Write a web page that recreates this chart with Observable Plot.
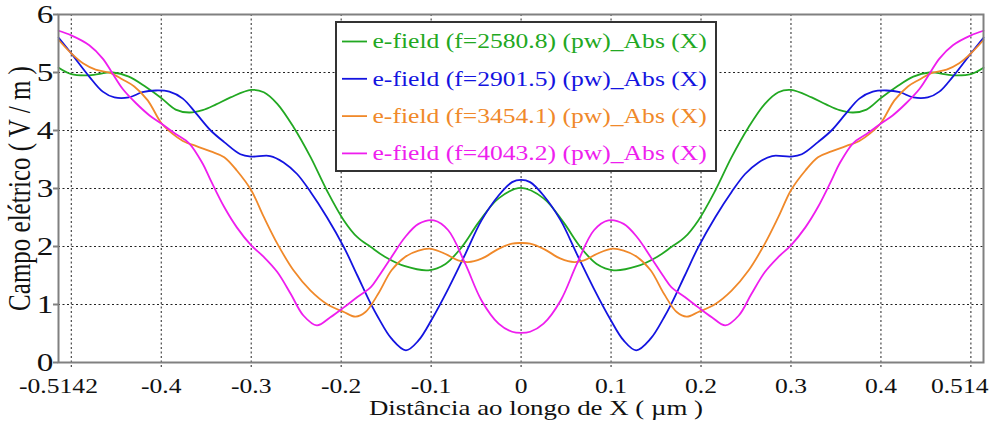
<!DOCTYPE html>
<html>
<head>
<meta charset="utf-8">
<script src="https://cdn.jsdelivr.net/npm/d3@7"></script>
<script src="https://cdn.jsdelivr.net/npm/@observablehq/plot@0.6"></script>
<style>
  html, body { margin: 0; padding: 0; background: #fff; }
</style>
</head>
<body>
<div id="chart"></div>
<script>
// Electric field magnitude along X for four frequencies (plane wave excitation)

const names = [
  "e-field (f=2580.8) (pw)_Abs (X)",
  "e-field (f=2901.5) (pw)_Abs (X)",
  "e-field (f=3454.1) (pw)_Abs (X)",
  "e-field (f=4043.2) (pw)_Abs (X)"
];
const colors = ["#22a822", "#1414e0", "#f0892a", "#ee1eee"];

// f = 2580.8
const x2580 = [-0.514,-0.5,-0.48,-0.454,-0.436,-0.417,-0.4,-0.384,-0.369,-0.354,-0.339,-0.323,-0.3,-0.286,-0.271,-0.253,-0.234,-0.216,-0.197,-0.182,-0.167,-0.151,-0.129,-0.103,-0.084,-0.066,-0.047,-0.025,0,
  0.025,0.047,0.066,0.084,0.103,0.129,0.151,0.167,0.182,0.197,0.216,0.234,0.253,0.271,0.286,0.3,0.323,0.339,0.354,0.369,0.384,0.4,0.417,0.436,0.454,0.48,0.5,0.514];
const e2580 = [5.08,4.97,4.95,5.00,4.93,4.75,4.56,4.36,4.31,4.35,4.45,4.57,4.70,4.66,4.46,4.06,3.54,2.97,2.45,2.16,1.99,1.82,1.66,1.59,1.70,1.99,2.42,2.83,3.01,
  2.83,2.42,1.99,1.70,1.59,1.66,1.82,1.99,2.16,2.45,2.97,3.54,4.06,4.46,4.66,4.70,4.57,4.45,4.35,4.31,4.36,4.56,4.75,4.93,5.00,4.95,4.97,5.08];

// f = 2901.5
const x2901 = [-0.514,-0.5,-0.48,-0.465,-0.452,-0.436,-0.421,-0.406,-0.391,-0.376,-0.361,-0.345,-0.33,-0.312,-0.3,-0.279,-0.264,-0.249,-0.234,-0.216,-0.197,-0.182,-0.167,-0.159,-0.144,-0.128,-0.114,-0.099,-0.081,-0.062,-0.044,-0.025,-0.01,0,
  0.01,0.025,0.044,0.062,0.081,0.099,0.114,0.128,0.144,0.159,0.167,0.182,0.197,0.216,0.234,0.249,0.264,0.279,0.3,0.312,0.33,0.345,0.361,0.376,0.391,0.406,0.421,0.436,0.452,0.465,0.48,0.5,0.514];
const e2901 = [5.60,5.33,4.93,4.67,4.57,4.57,4.66,4.69,4.67,4.55,4.29,4.00,3.80,3.59,3.55,3.56,3.45,3.25,2.94,2.51,1.99,1.50,1.01,0.78,0.41,0.21,0.38,0.75,1.27,1.87,2.45,2.88,3.11,3.15,
  3.11,2.88,2.45,1.87,1.27,0.75,0.38,0.21,0.41,0.78,1.01,1.50,1.99,2.51,2.94,3.25,3.45,3.56,3.55,3.59,3.80,4.00,4.29,4.55,4.67,4.69,4.66,4.57,4.57,4.67,4.93,5.33,5.60];

// f = 3454.1
const x3454 = [-0.514,-0.5,-0.487,-0.473,-0.456,-0.443,-0.43,-0.415,-0.4,-0.388,-0.376,-0.361,-0.345,-0.33,-0.316,-0.3,-0.286,-0.271,-0.253,-0.234,-0.216,-0.197,-0.184,-0.173,-0.159,-0.144,-0.129,-0.114,-0.1,-0.084,-0.07,-0.059,-0.044,-0.025,-0.01,0,
  0.01,0.025,0.044,0.059,0.07,0.084,0.1,0.114,0.129,0.144,0.159,0.173,0.184,0.197,0.216,0.234,0.253,0.271,0.286,0.3,0.316,0.33,0.345,0.361,0.376,0.388,0.4,0.415,0.43,0.443,0.456,0.473,0.487,0.5,0.514];
const e3454 = [5.56,5.33,5.16,5.05,4.99,4.88,4.76,4.52,4.13,3.95,3.82,3.73,3.64,3.54,3.31,2.97,2.51,2.05,1.59,1.24,1.01,0.87,0.79,0.87,1.18,1.59,1.82,1.93,1.96,1.87,1.76,1.73,1.79,1.96,2.05,2.06,
  2.05,1.96,1.79,1.73,1.76,1.87,1.96,1.93,1.82,1.59,1.18,0.87,0.79,0.87,1.01,1.24,1.59,2.05,2.51,2.97,3.31,3.54,3.64,3.73,3.82,3.95,4.13,4.52,4.76,4.88,4.99,5.05,5.16,5.33,5.56];

// f = 4043.2
const x4043 = [-0.514,-0.5,-0.48,-0.465,-0.454,-0.443,-0.428,-0.413,-0.4,-0.384,-0.369,-0.354,-0.345,-0.33,-0.316,-0.3,-0.286,-0.271,-0.256,-0.242,-0.227,-0.212,-0.197,-0.182,-0.167,-0.159,-0.144,-0.129,-0.114,-0.097,-0.081,-0.062,-0.044,-0.025,-0.01,0,
  0.01,0.025,0.044,0.062,0.081,0.097,0.114,0.129,0.144,0.159,0.167,0.182,0.197,0.212,0.227,0.242,0.256,0.271,0.286,0.3,0.316,0.33,0.345,0.354,0.369,0.384,0.4,0.413,0.428,0.443,0.454,0.465,0.48,0.5,0.514];
const e4043 = [5.72,5.64,5.47,5.24,4.98,4.72,4.47,4.26,4.12,3.94,3.78,3.43,3.14,2.68,2.33,2.02,1.82,1.56,1.18,0.81,0.64,0.78,0.95,1.13,1.30,1.47,1.82,2.16,2.39,2.45,2.28,1.70,1.07,0.67,0.53,0.51,
  0.53,0.67,1.07,1.70,2.28,2.45,2.39,2.16,1.82,1.47,1.30,1.13,0.95,0.78,0.64,0.81,1.18,1.56,1.82,2.02,2.33,2.68,3.14,3.43,3.78,3.94,4.12,4.26,4.47,4.72,4.98,5.24,5.47,5.64,5.72];

// axes
const xDomain = [-0.5142, 0.514];
const yDomain = [0, 6];
const xTickValues = [-0.5142, -0.4, -0.3, -0.2, -0.1, 0, 0.1, 0.2, 0.3, 0.4, 0.514];
const xTickLabels = ["-0.5142", "-0.4", "-0.3", "-0.2", "-0.1", "0", "0.1", "0.2", "0.3", "0.4", "0.514"];
const xGridValues = [-0.5, -0.4, -0.3, -0.2, -0.1, 0, 0.1, 0.2, 0.3, 0.4, 0.5];
const yTickValues = [0, 1, 2, 3, 4, 5, 6];
const yTickLabels = ["0", "1", "2", "3", "4", "5", "6"];
const yGridValues = [1, 2, 3, 4, 5];
const xTitle = "Distância ao longo de X ( µm )";
const yTitle = "Campo elétrico ( V / m )";

const xs = [x2580, x2901, x3454, x4043];
const es = [e2580, e2901, e3454, e4043];
const rows = names.flatMap((name, k) => xs[k].map((x, i) => ({name, k, x, y: es[k][i]})));

const serif = "'Liberation Serif', 'Times New Roman', serif";
const grid = {stroke: "#222", strokeWidth: 1, strokeDasharray: "2,2.5"};
const lastLabel = xTickValues.length - 1;

const chart = Plot.plot({
  width: 999,
  height: 423,
  marginLeft: 58,
  marginRight: 16,
  marginTop: 14,
  marginBottom: 61,
  style: {fontFamily: serif, background: "#fff", color: "#111", overflow: "visible"},
  x: {domain: xDomain, axis: null},
  y: {domain: yDomain, label: null},
  marks: [
    Plot.ruleY(yGridValues, {...grid}),
    Plot.ruleX(xGridValues, {...grid, insetBottom: -5}),
    ...names.map((name, k) =>
      Plot.line(rows.filter(d => d.k === k), {
        x: "x", y: "y", stroke: colors[k], strokeWidth: 1.8, curve: "catmull-rom"
      })
    ),
    Plot.frame({stroke: "#808080", strokeWidth: 2}),
    Plot.axisY(yTickValues, {
      tickSize: 5, tickPadding: 0, fontSize: 26, stroke: "#808080", strokeWidth: 2,
      fill: "#111", label: null, tickFormat: d => yTickLabels[yTickValues.indexOf(d)]
    }),
    Plot.text(xTickValues.slice(0, lastLabel), {
      x: d => d, text: (d, i) => xTickLabels[i],
      frameAnchor: "bottom", lineAnchor: "top", textAnchor: "middle", dy: 16, fontSize: 20, fill: "#111"
    }),
    Plot.text([xTickValues[lastLabel]], {
      x: d => d, text: () => xTickLabels[lastLabel],
      frameAnchor: "bottom", lineAnchor: "top", textAnchor: "end", dy: 16, dx: 5,
      fontSize: 20, fill: "#111"
    }),
    Plot.text([xTitle], {
      text: d => d, frameAnchor: "bottom", lineAnchor: "middle", textAnchor: "middle", dy: 46, dx: 15,
      fontSize: 21, fill: "#111"
    }),
    Plot.text([yTitle], {
      text: d => d, frameAnchor: "left", lineAnchor: "middle", textAnchor: "middle", rotate: -90, dx: -39,
      fontSize: 25, fill: "#111"
    })
  ]
});

// Legend box with one swatch and label per frequency
const svg = d3.select(chart);
const legend = svg.append("g").attr("text-anchor", "start");
legend.append("rect")
  .attr("x", 336).attr("y", 22).attr("width", 380).attr("height", 149)
  .attr("fill", "#fff").attr("stroke", "#333").attr("stroke-width", 2);
names.forEach((name, k) => {
  const cy = 41.5 + k * 37.3;
  legend.append("line")
    .attr("x1", 342).attr("x2", 367).attr("y1", cy).attr("y2", cy)
    .attr("stroke", colors[k]).attr("stroke-width", 1.8);
  legend.append("text")
    .attr("transform", `translate(372.5,${cy})`)
    .attr("dy", "0.34em")
    .attr("text-anchor", "start")
    .attr("font-size", 20)
    .attr("font-family", serif)
    .attr("fill", colors[k])
    .text(name);
});

// Text is drawn horizontally widened, as in the original export
const widen = 1.28;
svg.selectAll("text").each(function () {
  const t = this.getAttribute("transform") || "";
  const s = t.includes("rotate") ? ` scale(1,${widen})` : ` scale(${widen},1)`;
  this.setAttribute("transform", t + s);
});

document.getElementById("chart").append(chart);
</script>
</body>
</html>
